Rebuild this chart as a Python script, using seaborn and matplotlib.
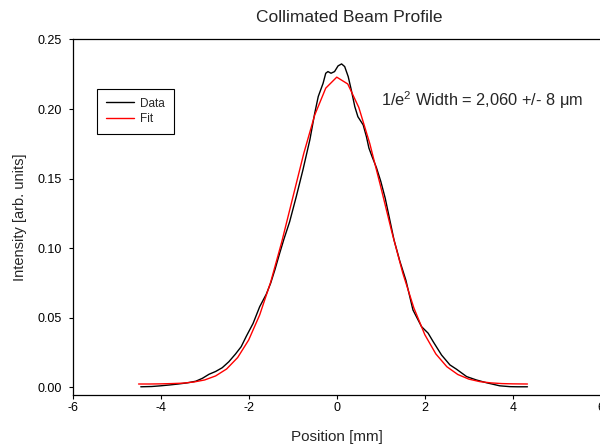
import numpy as np
import pandas as pd
import matplotlib
matplotlib.use("Agg")
import matplotlib.pyplot as plt
import seaborn as sns

# ---- data ----
data_x = [-4.45, -4.2, -4.0, -3.8, -3.6, -3.4, -3.2, -3.05, -2.9, -2.75, -2.6, -2.45,
          -2.3, -2.17, -2.05, -1.9, -1.75, -1.6, -1.5, -1.4, -1.3, -1.2, -1.07, -0.92,
          -0.77, -0.61, -0.5, -0.42, -0.31, -0.25, -0.2, -0.13, -0.05, 0.03, 0.11, 0.18,
          0.26, 0.33, 0.41, 0.48, 0.6, 0.675, 0.73, 0.8, 0.9, 1.0, 1.1, 1.2, 1.3, 1.43,
          1.57, 1.73, 1.925, 2.075, 2.19, 2.38, 2.57, 2.72, 2.95, 3.17, 3.4, 3.7, 3.93,
          4.1, 4.33]
data_y = [0.0005, 0.0007, 0.0012, 0.0018, 0.0025, 0.0033, 0.0045, 0.0066, 0.0095, 0.0115,
          0.0142, 0.0185, 0.0240, 0.0293, 0.0370, 0.0460, 0.0580, 0.0670, 0.0750, 0.0850,
          0.0960, 0.1065, 0.1190, 0.1370, 0.1560, 0.1780, 0.1970, 0.2090, 0.2185, 0.2257,
          0.2269, 0.2257, 0.2269, 0.2310, 0.2324, 0.2305, 0.2233, 0.2137, 0.2017, 0.1945,
          0.1886, 0.1800, 0.1720, 0.1660, 0.1580, 0.1480, 0.1360, 0.1210, 0.1060, 0.0910,
          0.0770, 0.0557, 0.0437, 0.0390, 0.0329, 0.0233, 0.0162, 0.0131, 0.0078, 0.0054,
          0.0034, 0.0012, 0.0006, 0.0005, 0.0005]

fit_x = [-4.5, -4.25, -4.0, -3.75, -3.5, -3.25, -3.0, -2.75, -2.5, -2.25, -2.0, -1.75,
         -1.5, -1.25, -1.0, -0.75, -0.5, -0.25, 0.0, 0.25, 0.5, 0.75, 1.0, 1.25, 1.5,
         1.75, 2.0, 2.25, 2.5, 2.75, 3.0, 3.25, 3.5, 3.75, 4.0, 4.33]
fit_y = [0.0025, 0.0025, 0.0026, 0.0028, 0.0031, 0.0039, 0.0054, 0.0083, 0.0133, 0.0215,
         0.0341, 0.0521, 0.0757, 0.1044, 0.1362, 0.1680, 0.1957, 0.2150, 0.2229, 0.2180,
         0.2012, 0.1752, 0.1440, 0.1118, 0.0821, 0.0572, 0.0379, 0.0241, 0.0149, 0.0093,
         0.0060, 0.0042, 0.0033, 0.0028, 0.0026, 0.0025]

x_ticks = [-6, -4, -2, 0, 2, 4, 6]
y_ticks = [0.00, 0.05, 0.10, 0.15, 0.20, 0.25]
series_names = ["Data", "Fit"]

# ---- style ----
sns.set_style("ticks")
plt.rcParams["font.family"] = ["Liberation Sans", "DejaVu Sans"]
plt.rcParams["axes.unicode_minus"] = False
plt.rcParams["mathtext.fontset"] = "custom"
plt.rcParams["mathtext.rm"] = "Liberation Sans"
plt.rcParams["mathtext.it"] = "Liberation Sans"

W, H = 600, 445
fig = plt.figure(figsize=(W / 100, H / 100), dpi=100)
ax = fig.add_axes([72.5 / W, (H - 395) / H, 528.5 / W, 356 / H])

df_data = pd.DataFrame({"x": data_x, "y": data_y})
df_fit = pd.DataFrame({"x": fit_x, "y": fit_y})

sns.lineplot(data=df_data, x="x", y="y", color="black", lw=1.0, ax=ax,
             label=series_names[0], sort=False)
sns.lineplot(data=df_fit, x="x", y="y", color="#ff0000", lw=1.0, ax=ax,
             label=series_names[1], sort=False)

ax.set_xlim(-6, 6)
ax.set_ylim(-0.0054, 0.2503)
ax.set_xticks(x_ticks)
ax.set_xticklabels([str(t) for t in x_ticks])
ax.set_yticks(y_ticks)
ax.set_yticklabels([f"{t:.2f}" for t in y_ticks])
ax.tick_params(axis="both", direction="out", length=3.2, width=0.8,
               labelsize=9, colors="black")
ax.tick_params(axis="x", pad=2)
ax.tick_params(axis="y", pad=4.5)
ax.set_xlabel("")
ax.set_ylabel("")

for side in ["left", "bottom", "top"]:
    ax.spines[side].set_visible(True)
    ax.spines[side].set_color("black")
    ax.spines[side].set_linewidth(0.9)
ax.spines["right"].set_visible(False)

# legend
leg = ax.legend(loc="upper left",
                bbox_to_anchor=(96.7 / W, 1 - 88.7 / H),
                bbox_transform=fig.transFigure,
                fontsize=8.5, frameon=True, fancybox=False, shadow=False,
                borderpad=0.75, labelspacing=0.3, handlelength=2.4,
                handletextpad=0.55, borderaxespad=0)
leg.get_frame().set_edgecolor("black")
leg.get_frame().set_linewidth(0.8)
leg.get_frame().set_alpha(1)

# texts
fig.text(349 / W, 1 - 17 / H, "Collimated Beam Profile", ha="center", va="center",
         fontsize=12.5)
fig.text(337 / W, 1 - 437 / H, "Position [mm]", ha="center", va="center", fontsize=11)
fig.text(20 / W, 1 - 217 / H, "Intensity [arb. units]", ha="center", va="center",
         rotation=90, fontsize=10.5)
fig.text(381 / W, 1 - 105.7 / H, "1/e$^{2}$ Width = 2,060 +/- 8 \u03bcm",
         ha="left", va="baseline", fontsize=11.8)

fig.savefig("out.png", dpi=100)
